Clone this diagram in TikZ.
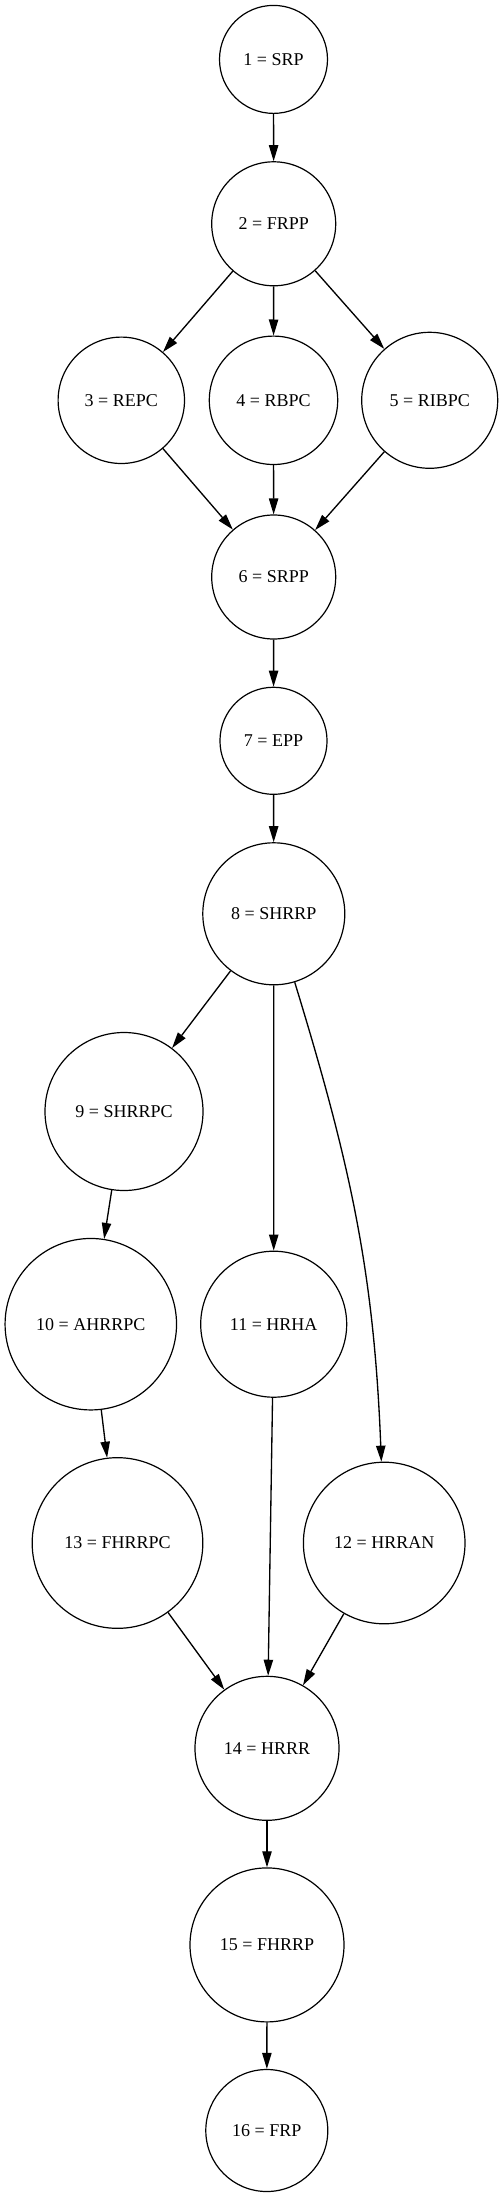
\documentclass[tikz,border=0pt]{standalone}
\usepackage{fontspec}
\setmainfont{Liberation Serif}
\usetikzlibrary{arrows.meta}
\begin{document}
\begin{tikzpicture}[x=0.75pt,y=-0.75pt,
  stage/.style={draw,circle,line width=0.9pt,inner sep=0pt,minimum size=#1,font=\fontsize{13.5}{16}\selectfont},
  flow/.style={-{Triangle[length=12pt,width=7pt]},line width=1pt}]
  \useasboundingbox (0,0) rectangle (503,2197);
  \node [stage=81pt] (srp) at (273.5,59.4) {1 = SRP};
  \node [stage=93pt] (frpp) at (273.7,223.8) {2 = FRPP};
  \node [stage=94.8pt] (repc) at (121.3,400.3) {3 = REPC};
  \node [stage=96.3pt] (rbpc) at (273.5,400.3) {4 = RBPC};
  \node [stage=102pt] (ribpc) at (429.7,400.3) {5 = RIBPC};
  \node [stage=93pt] (srpp) at (273.7,577) {6 = SRPP};
  \node [stage=80.3pt] (epp) at (273.5,740.8) {7 = EPP};
  \node [stage=106.5pt] (shrrp) at (273.8,913.8) {8 = SHRRP};
  \node [stage=118.5pt] (shrrpc) at (124,1111.5) {9 = SHRRPC};
  \node [stage=128.6pt] (ahrrpc) at (90.8,1324.2) {10 = AHRRPC};
  \node [stage=109.5pt] (hrha) at (273.7,1324.2) {11 = HRHA};
  \node [stage=121.2pt] (hrran) at (384.2,1543) {12 = HRRAN};
  \node [stage=128pt] (fhrrpc) at (117.5,1543) {13 = FHRRPC};
  \node [stage=108pt] (hrrr) at (267,1748.3) {14 = HRRR};
  \node [stage=115.5pt] (fhrrp) at (267,1944.9) {15 = FHRRP};
  \node [stage=91.5pt] (frp) at (266.8,2130.5) {16 = FRP};

  \draw [flow] (srp) -- (frpp);
  \draw [flow] (frpp) -- (repc);
  \draw [flow] (frpp) -- (rbpc);
  \draw [flow] (frpp) -- (ribpc);
  \draw [flow] (repc) -- (srpp);
  \draw [flow] (rbpc) -- (srpp);
  \draw [flow] (ribpc) -- (srpp);
  \draw [flow] (srpp) -- (epp);
  \draw [flow] (epp) -- (shrrp);
  \draw [flow] (shrrp) -- (shrrpc);
  \draw [flow] (shrrp) -- (hrha);
  \draw [flow] (shrrp.-73) .. controls (350.5,1164.4) and (374,1272) .. (hrran.92);
  \draw [flow] (shrrpc) -- (ahrrpc);
  \draw [flow] (ahrrpc) -- (fhrrpc);
  \draw [flow] (fhrrpc) -- (hrrr);
  \draw [flow] (hrha) -- (hrrr);
  \draw [flow] (hrran) -- (hrrr);
  \draw [flow] (hrrr) -- (fhrrp);
  \draw [flow] (fhrrp) -- (frp);

\end{tikzpicture}
\end{document}
